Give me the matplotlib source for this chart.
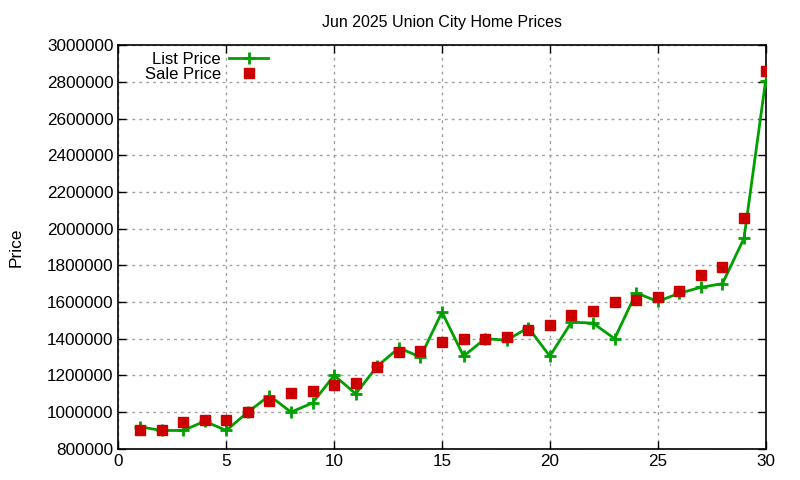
import matplotlib
matplotlib.use("Agg")
import matplotlib.pyplot as plt
from matplotlib.ticker import MultipleLocator

plt.rcParams['font.family'] = ['Liberation Sans', 'DejaVu Sans']

days = list(range(1, 31))
list_price = [920000, 900000, 900000, 950000, 900000, 1000000, 1090000, 1000000, 1050000, 1200000,
              1100000, 1250000, 1350000, 1300000, 1545000, 1305000, 1400000, 1392000, 1460000, 1305000,
              1490000, 1485000, 1400000, 1650000, 1603000, 1648000, 1680000, 1700000, 1948000, 2805000]
sale_price = [900000, 905000, 948000, 955000, 955000, 1000000, 1063000, 1105000, 1115000, 1150000,
              1160000, 1245000, 1330000, 1333000, 1382000, 1400000, 1400000, 1410000, 1450000, 1476000,
              1530000, 1550000, 1600000, 1613000, 1627000, 1660000, 1747000, 1791000, 2058000, 2860000]

title = "Jun 2025 Union City Home Prices"

fig = plt.figure(figsize=(8, 4.8), dpi=100)
ax = fig.add_axes([0.148, 0.065, 0.809, 0.841])

ax.plot(days, list_price, color='#00a000', lw=2, marker='+', markersize=9, mew=2, label='List Price', zorder=3)
ax.plot(days, sale_price, color='#cc0000', lw=0, marker='s', markersize=7, label='Sale Price', zorder=4)

ax.set_xlim(0, 30)
ax.set_ylim(800000, 3000000)
ax.xaxis.set_major_locator(MultipleLocator(5))
ax.yaxis.set_major_locator(MultipleLocator(200000))
ax.ticklabel_format(style='plain', axis='y', useOffset=False)
ax.grid(True, color='#a0a0a0', linestyle=(0, (2, 3)), lw=1)
ax.tick_params(direction='in', top=True, right=True, labelsize=12.3, length=6, width=1)
for s in ax.spines.values():
    s.set_linewidth(1.2)

ax.set_title(title, fontsize=11.5, pad=13)
ax.set_ylabel('Price', fontsize=12.5, labelpad=17)

leg = ax.legend(loc='upper left', bbox_to_anchor=(0.023, 1.013), frameon=False, markerfirst=False,
                fontsize=12, handlelength=2.3, labelspacing=0.0, borderaxespad=0.3, handletextpad=0.5)
for t in leg.get_texts():
    t.set_ha('right')

fig.savefig('out.png', dpi=100)
